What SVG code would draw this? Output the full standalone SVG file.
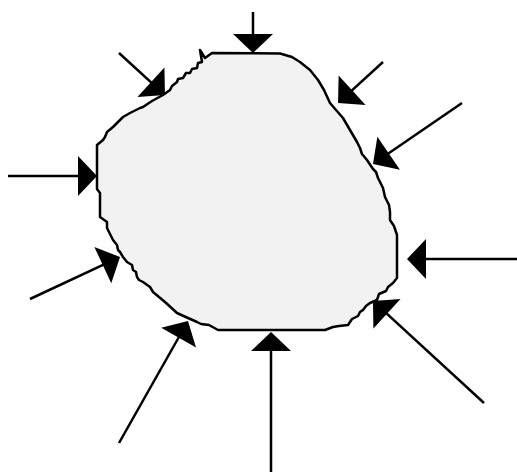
<svg xmlns="http://www.w3.org/2000/svg" width="517" height="473" viewBox="0 0 517 473">
<style>
.blob{fill:#f2f2f2;stroke:#000;stroke-width:2.5;stroke-linejoin:round}
.arr{stroke:#000;stroke-width:2.5;fill:none;marker-end:url(#head)}
</style>
<defs>
<marker id="head" markerUnits="userSpaceOnUse" viewBox="0 -20 20 40" markerWidth="20" markerHeight="40" refX="15" refY="0" orient="auto" overflow="visible">
<path d="M0,-20 L19,0 L0,20 z" fill="#000"/>
</marker>
</defs>
<rect width="517" height="473" fill="#fff"/>
<g id="blob">
<path class="blob" d="M212,53 L280,53.5 L292,57 L300,62 L310,70 L318,80 L324,90 L330,103 L336,110 L343,118 L350,130 L357,142 L360,148 L362,154 L367,160 L373,169 L376,172 L378,178 L383,188 L385,197 L389,205 L390,212 L390,220 L394,226 L397,235 L397,278 L393,283 L388,287 L386,291 L379,294 L377,300 L370,303 L366,306 L363,310 L360,312 L358,316 L352,319 L350,322 L348,325 L339,326 L333,327 L325,330 L218,330 L209,325 L201,324 L197,322 L188,318 L177,313 L165,302 L153,292 L150,287 L143,282 L139,280 L137,277 L136,272 L133,270 L132,265 L127,262 L123,257 L120,252 L118,250 L117,245 L113,240 L107,228 L107,222 L100,217 L100,193 L97,189 L97,145 L103,140 L105,137 L107,132 L113,127 L123,117 L130,113 L136,110 L140,108 L143,107 L152,101 L163,95 L170,90 L172,86 L177,82 L178,79 L183,78 L186,73 L190,73 L192,69 L197,68 L198,63 L202,62 L200,50 L205,58 L212,53 Z"/>
</g>
<g id="connectors">
<line class="arr" x1="253" y1="12" x2="253" y2="49"/>
<line class="arr" x1="119" y1="53" x2="162" y2="92.3"/>
<line class="arr" x1="383" y1="62" x2="341" y2="100.3"/>
<line class="arr" x1="462" y1="103" x2="376.3" y2="161.7"/>
<line class="arr" x1="8" y1="176" x2="93" y2="176"/>
<line class="arr" x1="517" y1="259" x2="411" y2="259"/>
<line class="arr" x1="30" y1="299" x2="116.4" y2="258.7"/>
<line class="arr" x1="119" y1="443" x2="186" y2="324.5"/>
<line class="arr" x1="271" y1="472" x2="271" y2="336"/>
<line class="arr" x1="484" y1="403" x2="375.9" y2="303.7"/>
</g>
</svg>
